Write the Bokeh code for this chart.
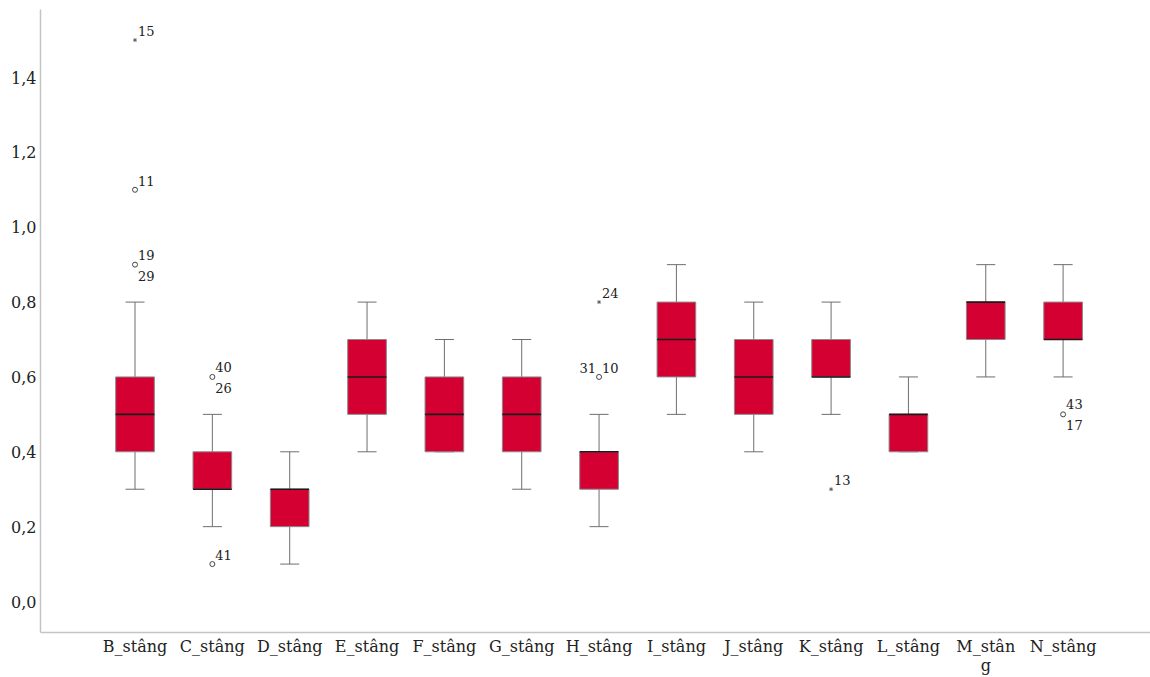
from bokeh.plotting import figure
from bokeh.models import FixedTicker, CustomJSTickFormatter, Range1d, ColumnDataSource
from bokeh.core.properties import value
from bokeh.embed import file_html
from bokeh.resources import INLINE

# ---- data ----
categories = ["B_stâng", "C_stâng", "D_stâng", "E_stâng", "F_stâng", "G_stâng", "H_stâng",
              "I_stâng", "J_stâng", "K_stâng", "L_stâng", "M_stân\ng", "N_stâng"]
q1 =      [0.4, 0.3, 0.2, 0.5, 0.4, 0.4, 0.3, 0.6, 0.5, 0.6, 0.4, 0.7, 0.7]
median =  [0.5, 0.3, 0.3, 0.6, 0.5, 0.5, 0.4, 0.7, 0.6, 0.6, 0.5, 0.8, 0.7]
q3 =      [0.6, 0.4, 0.3, 0.7, 0.6, 0.6, 0.4, 0.8, 0.7, 0.7, 0.5, 0.8, 0.8]
w_low =   [0.3, 0.2, 0.1, 0.4, 0.4, 0.3, 0.2, 0.5, 0.4, 0.5, 0.4, 0.6, 0.6]
w_high =  [0.8, 0.5, 0.4, 0.8, 0.7, 0.7, 0.5, 0.9, 0.8, 0.8, 0.6, 0.9, 0.9]

# outliers: category index (1-based), value, kind ("o" = outlier, "*" = extreme)
out_cat =   [1, 1, 1, 2, 2, 7, 7, 10, 13]
out_val =   [1.5, 1.1, 0.9, 0.6, 0.1, 0.6, 0.8, 0.3, 0.5]
out_kind =  ["*", "o", "o", "o", "o", "o", "*", "*", "o"]
# case labels attached to each outlier point
out_labels = [["15"], ["11"], ["19", "29"], ["40", "26"], ["41"], ["31", "10"], ["24"], ["13"], ["43", "17"]]

y_ticks = [0.0, 0.2, 0.4, 0.6, 0.8, 1.0, 1.2, 1.4]

SERIF = "DejaVu Serif"

# ---- figure ----
xs = list(range(1, len(categories) + 1))
p = figure(width=1150, height=677, output_backend="svg", toolbar_location=None,
           x_range=Range1d(-0.222, 14.13), y_range=Range1d(-0.0828, 1.5817),
           min_border_left=40, min_border_right=0, min_border_top=9, min_border_bottom=45)
p.outline_line_color = None
p.xgrid.grid_line_color = None
p.ygrid.grid_line_color = None

axis_col = "#c4c4c4"
txt_col = "#222222"
for ax in (p.xaxis[0], p.yaxis[0]):
    ax.axis_line_color = axis_col
    ax.axis_line_width = 1.5
    ax.major_tick_line_color = None
    ax.minor_tick_line_color = None
    ax.major_tick_out = 0
    ax.major_tick_in = 0
    ax.minor_tick_out = 0
    ax.major_label_text_font = SERIF
    ax.major_label_text_font_size = "16px"
    ax.major_label_text_color = txt_col

p.yaxis[0].ticker = FixedTicker(ticks=y_ticks)
p.yaxis[0].formatter = CustomJSTickFormatter(code="return tick.toFixed(1).replace('.', ',');")
p.yaxis[0].major_label_standoff = 4

p.xaxis[0].ticker = FixedTicker(ticks=xs)
p.xaxis[0].major_label_overrides = {x: c for x, c in zip(xs, categories)}
p.xaxis[0].major_label_standoff = 4
p.xaxis[0].major_label_text_line_height = 1.0

src = ColumnDataSource(dict(x=xs, q1=q1, med=median, q3=q3, lo=w_low, hi=w_high,
                            xl=[x - 0.25 for x in xs], xr=[x + 0.25 for x in xs],
                            cl=[x - 0.123 for x in xs], cr=[x + 0.123 for x in xs]))

wcol = "#6e6e6e"
# whiskers
p.segment(x0="x", y0="q3", x1="x", y1="hi", source=src, line_color=wcol, line_width=1)
p.segment(x0="x", y0="lo", x1="x", y1="q1", source=src, line_color=wcol, line_width=1)
# caps
p.segment(x0="cl", y0="hi", x1="cr", y1="hi", source=src, line_color=wcol, line_width=1)
p.segment(x0="cl", y0="lo", x1="cr", y1="lo", source=src, line_color=wcol, line_width=1)
# boxes
p.vbar(x="x", width=0.5, bottom="q1", top="q3", source=src,
       fill_color="#D50032", line_color="#8a8a8a", line_width=1)
# medians
p.segment(x0="xl", y0="med", x1="xr", y1="med", source=src, line_color="#1a1a1a", line_width=1.6)

# outliers
oc = [c for c, k in zip(out_cat, out_kind) if k == "o"]
ov = [v for v, k in zip(out_val, out_kind) if k == "o"]
ec = [c for c, k in zip(out_cat, out_kind) if k == "*"]
ev = [v for v, k in zip(out_val, out_kind) if k == "*"]
p.scatter(oc, ov, marker="circle", size=5, fill_color=None, line_color="#444444", line_width=1)
p.scatter(ec, ev, marker="asterisk", size=4, line_color="#555555", line_width=0.8)

# case labels
lx, ly, lt, lxo, lyo, lal = [], [], [], [], [], []
for c, v, labs in zip(out_cat, out_val, out_labels):
    if len(labs) == 1:
        lx.append(c); ly.append(v); lt.append(labs[0]); lxo.append(3); lyo.append(-9); lal.append("left")
    elif c == 7:
        lx += [c, c]; ly += [v, v]; lt += labs; lxo += [-3, 3]; lyo += [-9, -9]; lal += ["right", "left"]
    else:
        lx += [c, c]; ly += [v, v]; lt += labs; lxo += [3, 3]; lyo += [-10, 11]; lal += ["left", "left"]
lsrc = ColumnDataSource(dict(x=lx, y=ly, t=lt, xo=lxo, yo=lyo, al=lal))
p.text(x="x", y="y", text="t", x_offset="xo", y_offset="yo", text_align="al", source=lsrc,
       text_baseline="middle", text_font=value(SERIF), text_font_size="13px",
       text_color=txt_col)

open("out.html", "w").write(file_html(p, INLINE))
